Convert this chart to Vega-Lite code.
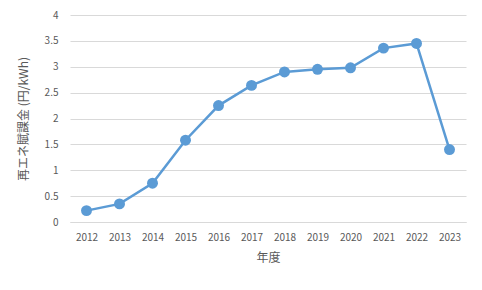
{
  "$schema": "https://vega.github.io/schema/vega-lite/v6.json",
  "width": 396,
  "height": 207,
  "autosize": {"type": "none"},
  "padding": {"left": 70, "top": 15, "right": 16, "bottom": 68},
  "background": "white",
  "config": {
    "font": "Noto Sans CJK JP",
    "view": {"stroke": null},
    "axis": {
      "labelColor": "#595959",
      "titleColor": "#595959",
      "labelFontSize": 10,
      "titleFontSize": 12,
      "titleFontWeight": "normal",
      "ticks": false,
      "gridColor": "#d9d9d9",
      "domainColor": "#d9d9d9"
    }
  },
  "data": {
    "values": [
      {"year": "2012", "value": 0.22},
      {"year": "2013", "value": 0.35},
      {"year": "2014", "value": 0.75},
      {"year": "2015", "value": 1.58},
      {"year": "2016", "value": 2.25},
      {"year": "2017", "value": 2.64},
      {"year": "2018", "value": 2.90},
      {"year": "2019", "value": 2.95},
      {"year": "2020", "value": 2.98},
      {"year": "2021", "value": 3.36},
      {"year": "2022", "value": 3.45},
      {"year": "2023", "value": 1.40}
    ]
  },
  "mark": {"type": "line", "color": "#5B9BD5", "strokeWidth": 2.5, "point": {"filled": true, "size": 120, "color": "#5B9BD5", "opacity": 1}},
  "encoding": {
    "x": {
      "field": "year", "type": "ordinal",
      "scale": {"type": "point", "padding": 0.5},
      "axis": {"title": "年度", "labelAngle": 0, "grid": false, "labelPadding": 10, "titlePadding": 10}
    },
    "y": {
      "field": "value", "type": "quantitative",
      "scale": {"domain": [0, 4], "nice": false},
      "axis": {"title": "再エネ賦課金 (円/kWh)", "format": "~g", "values": [0, 0.5, 1, 1.5, 2, 2.5, 3, 3.5, 4], "domain": false, "labelPadding": 12, "titlePadding": 14}
    }
  }
}
